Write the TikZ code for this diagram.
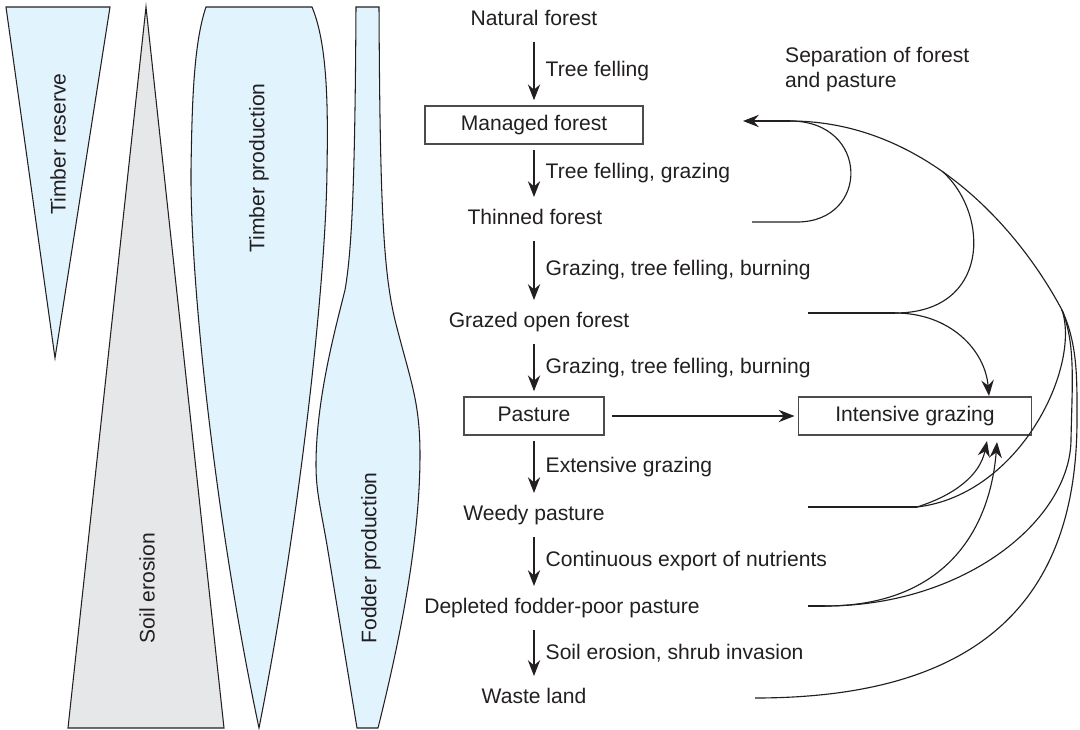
\documentclass[tikz,border=0pt]{standalone}
\usepackage{fontspec}
\setmainfont{Liberation Sans}
\usetikzlibrary{arrows.meta}
\definecolor{ink}{HTML}{231F20}
\definecolor{paleblue}{HTML}{E1F3FD}
\definecolor{palegrey}{HTML}{E6E7E8}

\begin{document}
\begin{tikzpicture}[x=0.02cm,y=-0.02cm,
    every node/.style={font=\fontsize{12}{14}\selectfont, text=ink},
    state/.style={text height=9pt, text depth=3pt},
    stagebox/.style={state, draw=black!70, line width=0.6pt, minimum height=0.76cm},
    link/.style={draw=ink, line width=0.65pt},
    flow/.style={link, -{Stealth[length=9pt,width=7pt,inset=3pt]}},
    spaced/.style={shorten <=3pt, shorten >=3pt},
    wedge/.style={draw=ink, line width=0.6pt}]
    \useasboundingbox (0,0) rectangle (1080,730);

    % trend wedges on the left
    \filldraw [wedge, fill=paleblue] (6,7) -- (110,7) -- (55,358) -- cycle;
    \filldraw [wedge, fill=palegrey] (146,7) -- (224,728) -- (68,728) -- cycle;
    \filldraw [wedge, fill=paleblue] (206,7) -- (312,7)
        .. controls (328,45) and (328,110) .. (327,170)
        .. controls (326,280) and (300,520) .. (259,728)
        .. controls (215,520) and (190,280) .. (191,170)
        .. controls (192,110) and (193,45) .. cycle;
    \filldraw [wedge, fill=paleblue] (356,7) -- (379,7)
        .. controls (380,200) and (383,270) .. (395,320)
        .. controls (410,380) and (420,400) .. (420,455)
        .. controls (420,540) and (400,640) .. (378,728)
        -- (357,728) -- (327,545)
        .. controls (320,505) and (316,490) .. (316,465)
        .. controls (316,400) and (335,330) .. (345,290)
        .. controls (352,250) and (355,180) .. cycle;
    \node [rotate=90] (reserve) at (58,144) {Timber reserve};
    \node [rotate=90] (erosion) at (147,588) {Soil erosion};
    \node [rotate=90] (timber) at (259,168) {Timber production};
    \node [rotate=90] (fodder) at (371,558) {Fodder production};

    % succession of land use
    \node [state] (nat) at (534,20) {Natural forest};
    \node [stagebox, minimum width=4.36cm] (man) at (534,125) {Managed forest};
    \node [state] (thin) at (535,219) {Thinned forest};
    \node [state] (open) at (539,322) {Grazed open forest};
    \node [stagebox, minimum width=2.8cm] (past) at (534,416) {Pasture};
    \node [state] (weedy) at (534,515) {Weedy pasture};
    \node [state] (depl) at (562,608) {Depleted fodder-poor pasture};
    \node [state] (waste) at (534,698) {Waste land};
    \node [stagebox, minimum width=4.66cm] (intens) at (915,416) {Intensive grazing};
    \node [align=left, anchor=north west] (sep) at (779,41) {Separation of forest\\and pasture};

    \coordinate (col) at (534,0);
    \draw [flow, spaced] (col |- nat.south) -- (col |- man.north) node [midway, right=3pt] {Tree felling};
    \draw [flow, spaced] (col |- man.south) -- (col |- thin.north) node [midway, right=3pt] {Tree felling, grazing};
    \draw [flow, spaced] (col |- thin.south) -- (col |- open.north) node [midway, right=3pt] {Grazing, tree felling, burning};
    \draw [flow, spaced] (col |- open.south) -- (col |- past.north) node [midway, right=3pt] {Grazing, tree felling, burning};
    \draw [flow, spaced] (col |- past.south) -- (col |- weedy.north) node [midway, right=3pt] {Extensive grazing};
    \draw [flow, spaced] (col |- weedy.south) -- (col |- depl.north) node [midway, right=3pt] {Continuous export of nutrients};
    \draw [flow, spaced] (col |- depl.south) -- (col |- waste.north) node [midway, right=3pt] {Soil erosion, shrub invasion};
    \draw [flow, shorten <=4pt, shorten >=2pt] (past) -- (intens);

    % return paths
    \coordinate (hub) at (790,121);
    \coordinate (tip) at (743,121);
    \coordinate (join) at (1062,310);
    \coordinate (fork) at (943,172);
    \coordinate (thinEnd) at (752,222);
    \coordinate (openEnd) at (808,313);
    \coordinate (openFork) at (895,313);
    \coordinate (weedyEnd) at (808,507);
    \coordinate (weedyFork) at (917,507);
    \coordinate (deplEnd) at (808,606);
    \coordinate (deplFork) at (825,606);
    \coordinate (wasteEnd) at (755,698);
    \coordinate (inA) at (989,396);
    \coordinate (inB) at (987,441);
    \coordinate (inC) at (997,442);

    \draw [flow] (hub) -- (tip);
    \draw [link] (join) .. controls (1015,222) and (920,121) .. (hub);
    \draw [link] (thinEnd) -- (797,222) .. controls (870,222) and (870,121) .. (hub);

    \draw [link] (openEnd) -- (openFork);
    \draw [link] (openFork) .. controls (990,313) and (990,215) .. (fork);
    \draw [flow] (openFork) .. controls (950,313) and (985,350) .. (inA);

    \draw [link] (weedyEnd) -- (weedyFork);
    \draw [flow] (weedyFork) .. controls (955,495) and (980,475) .. (inB);
    \draw [link] (weedyFork) .. controls (1020,495) and (1081,367) .. (join);

    \draw [link] (deplEnd) -- (deplFork);
    \draw [flow] (deplFork) .. controls (945,606) and (990,530) .. (inC);
    \draw [link] (deplFork) .. controls (965,606) and (1070,520) .. (1071,440)
        .. controls (1072,385) and (1076,345) .. (join);

    \draw [link] (wasteEnd) .. controls (980,698) and (1077,600) .. (1077,420)
        .. controls (1077,380) and (1078,345) .. (join);
\end{tikzpicture}
\end{document}
